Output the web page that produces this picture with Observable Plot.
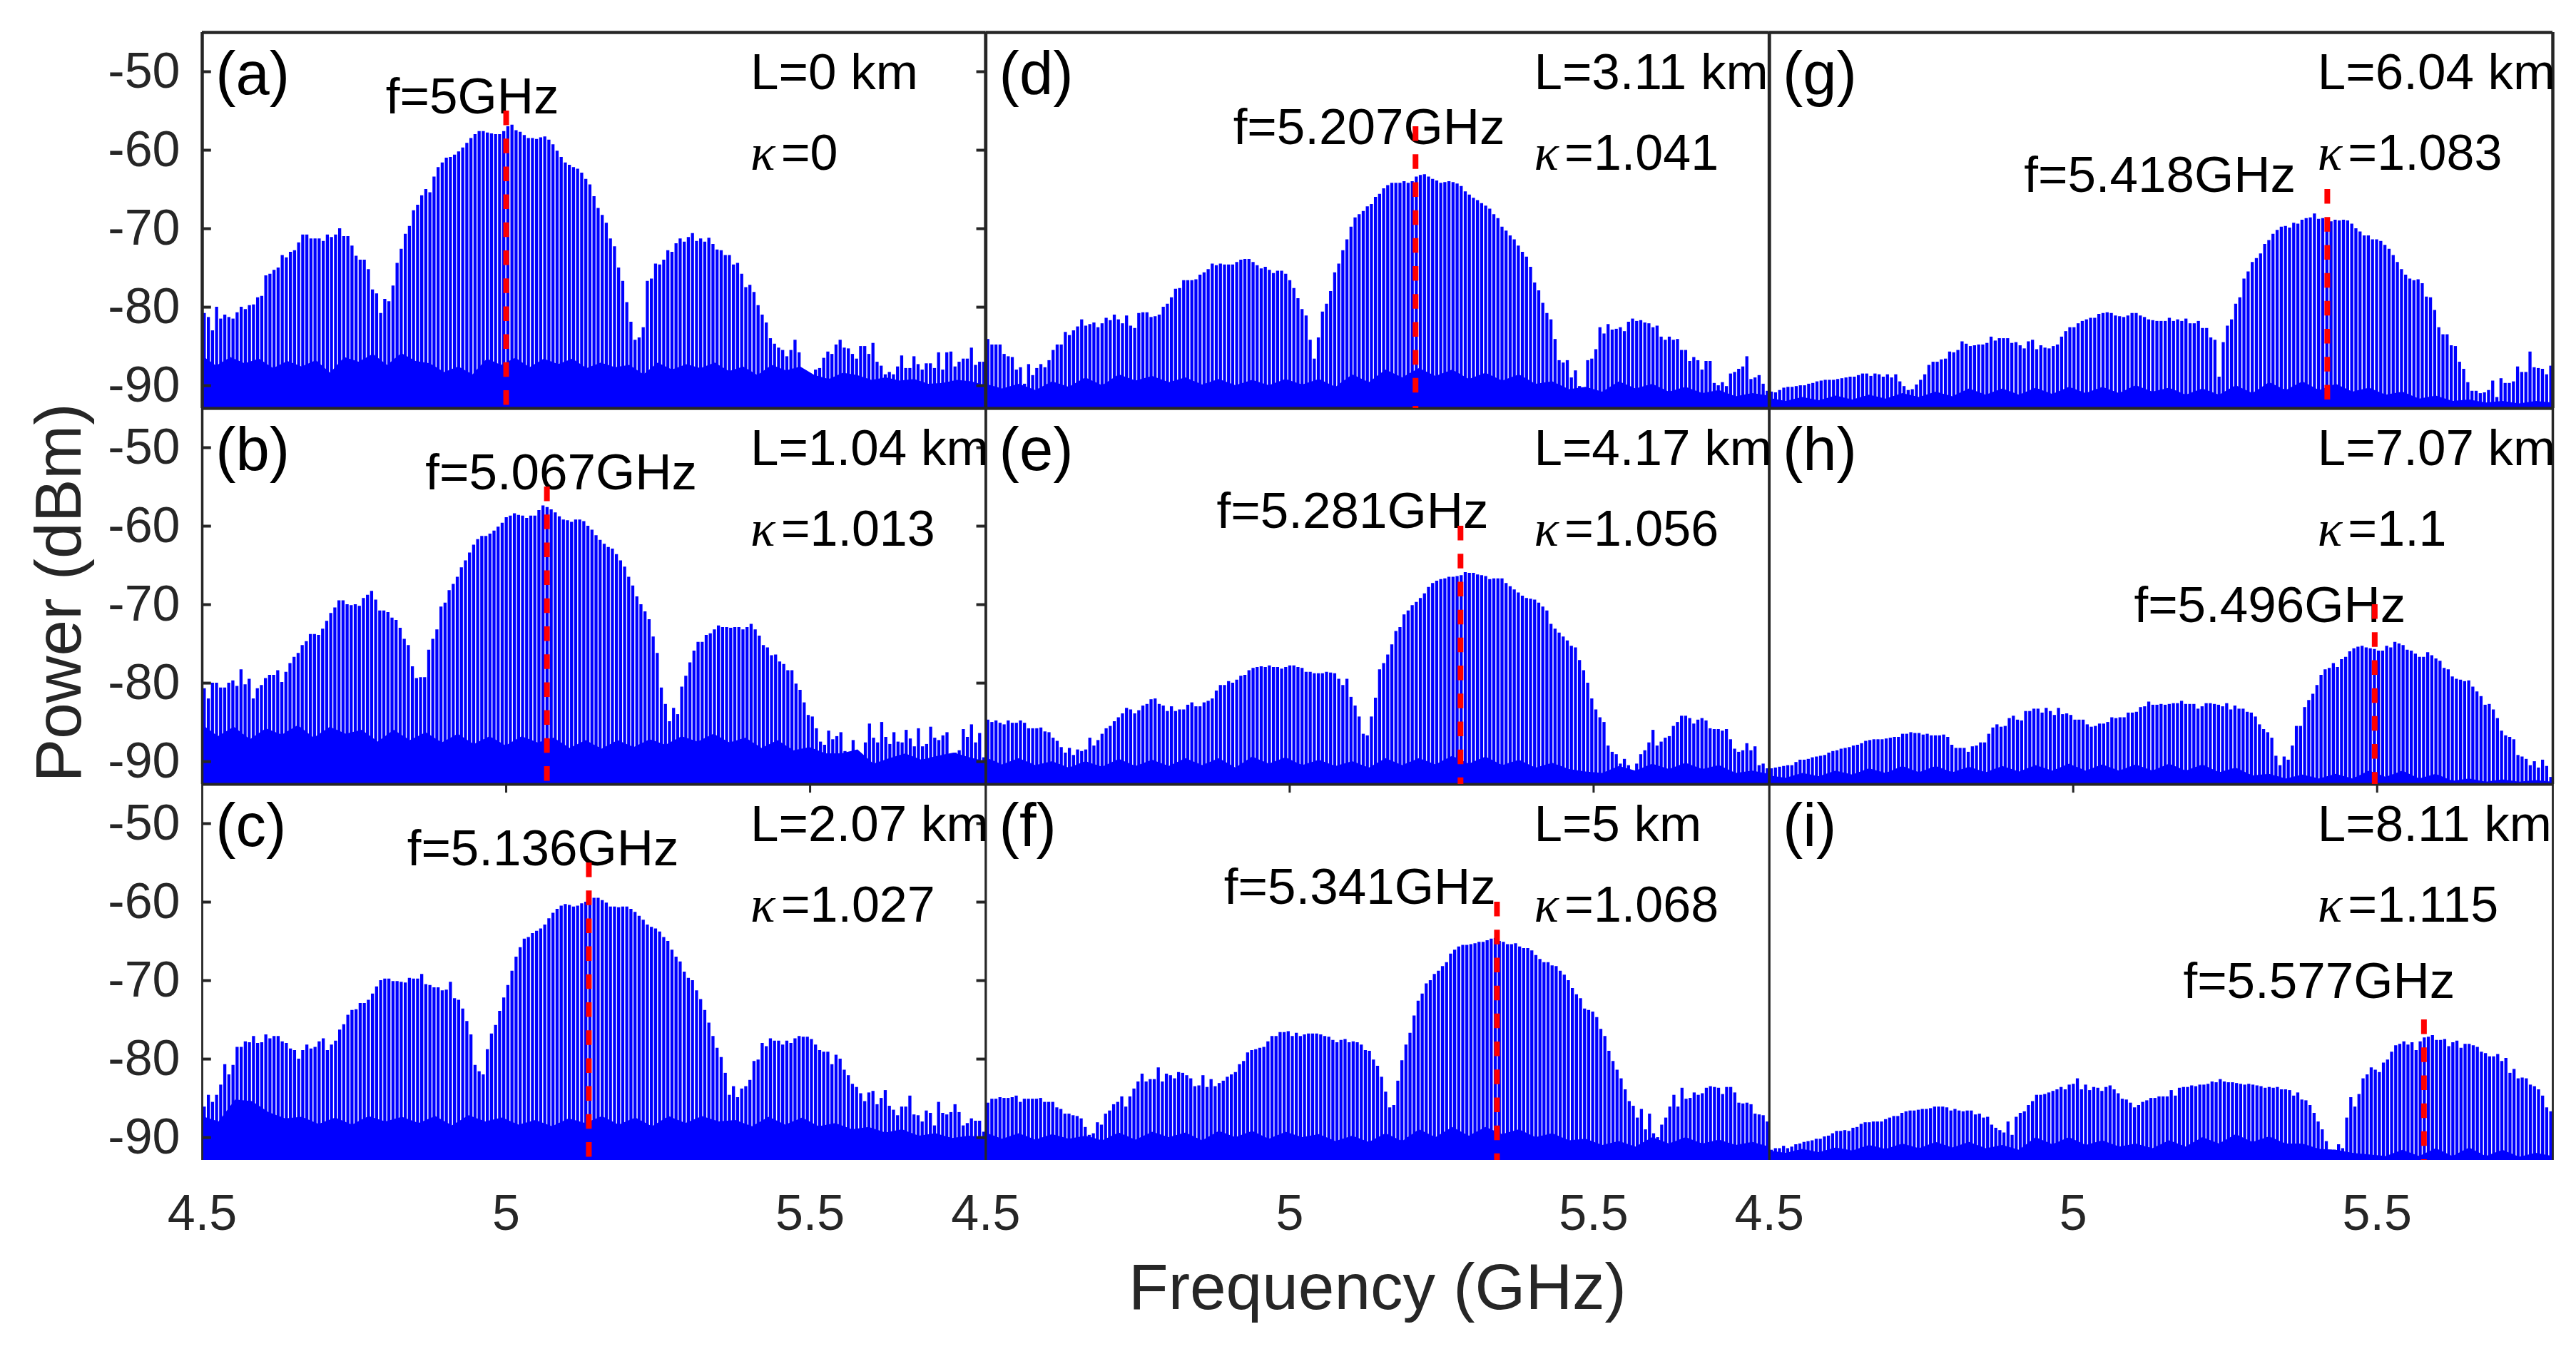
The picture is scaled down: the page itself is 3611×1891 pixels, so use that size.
<!DOCTYPE html>
<html>
<head>
<meta charset="utf-8">
<script src="https://cdn.jsdelivr.net/npm/d3@7"></script>
<script src="https://cdn.jsdelivr.net/npm/@observablehq/plot@0.6"></script>
<style>html,body{margin:0;padding:0;background:#fff}svg{display:block}</style>
</head>
<body>
<div id="chart"></div>
<script>
const xMin = 4.5, xMax = 5.789, yMin = -92.9, yMax = -45;
const xTicks = [4.5, 5, 5.5];
const yTicks = [-50, -60, -70, -80, -90];

const ids = ["a","b","c","d","e","f","g","h","i"];
const columns = ["1","1","1","2","2","2","3","3","3"];
const rows = ["r1","r2","r3","r1","r2","r3","r1","r2","r3"];
const fiberLength = ["L=0 km","L=1.04 km","L=2.07 km","L=3.11 km","L=4.17 km","L=5 km","L=6.04 km","L=7.07 km","L=8.11 km"];
const kappa = ["=0","=1.013","=1.027","=1.041","=1.056","=1.068","=1.083","=1.1","=1.115"];
const carrier = [5, 5.067, 5.136, 5.207, 5.281, 5.341, 5.418, 5.496, 5.577];
const carrierLabel = ["f=5GHz","f=5.067GHz","f=5.136GHz","f=5.207GHz","f=5.281GHz","f=5.341GHz","f=5.418GHz","f=5.496GHz","f=5.577GHz"];
const markerTop = [-55, -55, -55, -57, -60, -60, -65, -70, -75];
const carrierLabelX = [4.802, 4.867, 4.837, 4.907, 4.880, 4.892, 4.919, 5.100, 5.181];
const carrierLabelY = [-55.3, -55.3, -55.3, -59.2, -60.2, -60.2, -65.3, -72.2, -72.2];

const topsA = [-80.8,-81.3,-83,-80,-81.5,-81,-81.3,-81.5,-80.7,-80,-80.3,-79.8,-79.7,-78.8,-78.6,-76,-75.8,-75.3,-75,-73.4,-73.7,-73,-72.8,-71.8,-70.8,-70.8,-71.3,-71.3,-71.3,-71.6,-70.8,-71.1,-70.8,-70,-71,-71,-72.2,-73.5,-74,-74,-75.2,-77.8,-78.3,-80.8,-79,-79.3,-77.3,-74.4,-72.6,-70.7,-69.7,-67.7,-67,-65.8,-65,-65.4,-63.4,-62.2,-61.6,-61,-60.9,-60.6,-60.2,-59.7,-59.1,-58.5,-58,-57.6,-57.6,-57.8,-57.9,-58,-58,-57.6,-57,-56.8,-57.5,-57.7,-58.1,-58.5,-58.5,-58.6,-58.4,-58.3,-58.7,-59.3,-60.1,-60.9,-61.6,-61.9,-62.2,-62.4,-62.9,-63.7,-64.4,-65.9,-67.4,-68.3,-69.3,-71.3,-72.3,-75,-76.7,-79.4,-81.9,-84.2,-83.9,-82.6,-76.7,-76.4,-74.5,-74.6,-74,-72.8,-73,-71.9,-71.3,-71.7,-71.1,-70.6,-71.6,-71.3,-71.7,-71.2,-72,-72.7,-72.8,-73.4,-73.4,-74.6,-74.4,-75.8,-77.5,-77.2,-78.1,-79.8,-81,-82,-84,-84.7,-85.2,-85.5,-86.3,-85.5,-84.2,-85.8,-88,-88.6,-89,-88,-87.8,-86.5,-85.7,-86,-84.8,-84.2,-85.2,-85.3,-86,-86.6,-85,-85,-86,-84.6,-87,-87.5,-88.6,-88.3,-88.6,-87.6,-86.2,-87.8,-87.8,-86.3,-87.3,-88,-87.2,-87.2,-87.8,-85.8,-88,-85.8,-85.7,-87.6,-87,-86.6,-86.6,-85.2,-87.4,-87,-87];
const topsB = [-80.7,-82,-80,-80,-80.6,-80.6,-80,-79.7,-80.4,-78.3,-80.2,-79.5,-82,-80.7,-80.3,-79.4,-79,-79,-78.4,-79.9,-78.6,-77.5,-76.7,-76.2,-75.2,-74.7,-73.8,-73.8,-73.9,-73.1,-72.1,-71.1,-70.4,-69.5,-69.5,-70,-70.1,-70,-70.2,-69.2,-68.8,-68.3,-69.4,-70.8,-70.8,-71,-71.7,-72,-73,-74.4,-75.2,-77.9,-79.4,-79.3,-79.3,-75.8,-74.4,-73.2,-70.3,-69.8,-68.2,-67.4,-66.5,-65.3,-64.4,-63.4,-62.4,-61.7,-61.3,-61.3,-61,-60.6,-60.1,-59.6,-58.9,-58.7,-58.4,-58.6,-58.7,-59,-58.7,-58.7,-58,-57.4,-57.6,-57.9,-58.3,-58.8,-59.2,-59.3,-59.5,-59.2,-59.2,-59.4,-60,-60.5,-61.2,-61.8,-62.3,-62.7,-62.9,-63.6,-64.4,-65.2,-66.5,-67.6,-69,-70,-70.9,-71.9,-74.1,-76.2,-80.6,-82.7,-84.9,-83.2,-84,-80.5,-79.1,-77.4,-75.9,-74.8,-74.8,-73.9,-73.7,-73.2,-72.7,-72.9,-72.9,-73,-72.9,-72.9,-73.2,-72.9,-72.5,-73.2,-74,-75.2,-75.5,-76.5,-76.4,-77.3,-77.6,-78.4,-78.4,-80.1,-80.9,-82.5,-84.1,-84.3,-85.8,-87.5,-87.9,-86.1,-87.2,-86.8,-86.3,-88.7,-89,-87.3,-90.2,-89.3,-87.6,-85.2,-87,-87.6,-85,-86.9,-87.8,-86.3,-87.5,-87.6,-86,-87.1,-88.1,-85.8,-88.1,-87.8,-85.6,-87,-87.3,-86.7,-86.3,-89.2,-88.9,-88.6,-85.9,-86.9,-85.3,-87.6,-86.4,-89.5];
const topsC = [-86.1,-84.6,-85.5,-84.6,-83.3,-80.7,-82,-80.8,-78.5,-78.5,-77.8,-77.9,-77.1,-78,-77.9,-76.9,-77.4,-77.1,-77.1,-77.8,-78,-78.7,-78.9,-80,-78.9,-78.2,-78.7,-78.5,-77.8,-77.4,-78.9,-78.2,-77.7,-76.3,-75.6,-74.4,-73.8,-73.7,-72.9,-72.9,-72.5,-71.7,-70.8,-70,-69.8,-69.8,-70.1,-70.1,-70.2,-70.3,-69.7,-69.8,-69.8,-69.2,-70.5,-70.6,-70.9,-70.9,-71.3,-71.2,-70.2,-72.3,-72.5,-73.6,-75.2,-76.9,-80.8,-81.6,-82,-78.8,-76.8,-75.7,-73.9,-72.2,-70.6,-68.8,-67,-65.8,-64.7,-64.5,-64,-63.7,-63.4,-62.9,-62.1,-61.4,-60.9,-60.5,-60.3,-60.4,-60.6,-60.5,-60.2,-60,-59.8,-59.5,-59.5,-59.8,-60.1,-60.6,-60.6,-60.7,-60.6,-60.6,-60.9,-61.3,-61.8,-62.3,-62.9,-63.2,-63.4,-63.8,-64.5,-65,-66.1,-67,-67.6,-68.9,-69.7,-70,-71.3,-72.4,-73.8,-75.4,-77.1,-78.6,-79.8,-81.8,-84.6,-83.5,-84.9,-83.8,-83.5,-82.7,-80.3,-80.1,-78,-78.4,-77.4,-77.7,-77.7,-78.2,-77.7,-78,-77.4,-77.1,-77.2,-77.2,-77.5,-78.2,-78.9,-79.1,-79.1,-80.7,-79.5,-80,-81.4,-82.1,-83.2,-83.6,-84.4,-85.4,-84.3,-84.1,-85.8,-85,-84,-86,-86.5,-87.2,-86.1,-86.1,-84.7,-87.1,-87.2,-88,-86.6,-86.9,-88.5,-85.5,-86.9,-87.1,-86.8,-85.8,-86.8,-88.5,-88.2,-87.6,-87.9,-87.9,-89.3];
const topsD = [-84.1,-84.8,-84.8,-84.8,-86,-86.3,-86.4,-88,-87.7,-89.8,-87.3,-88.7,-87.8,-87.3,-87.7,-86.8,-85.5,-84.8,-84.8,-83.2,-83.6,-83,-82.5,-81.6,-82.4,-82.2,-82,-82.6,-82.1,-81.4,-81.7,-81,-81.6,-82.1,-81.1,-82.4,-82.7,-80.8,-80.7,-80.7,-81.3,-81.2,-81,-80,-79.6,-78.8,-77.7,-77.6,-76.6,-76.6,-76.6,-76.5,-75.9,-75.6,-75.2,-74.5,-74.7,-74.5,-74.6,-74.6,-74.6,-74.3,-74,-73.9,-73.9,-74.3,-74.7,-75.1,-74.9,-75.3,-75.7,-75.4,-75.4,-75.8,-76.6,-77.6,-78.9,-80.3,-81.1,-84.2,-86.6,-83.9,-80.6,-79.6,-78,-75.6,-74.5,-72.8,-71.4,-69.8,-68.6,-68.2,-67.8,-67.2,-66.9,-66,-65.6,-64.9,-64.5,-64.2,-64.2,-64.2,-64,-64.2,-64,-63.4,-63.2,-63.1,-63.4,-63.7,-63.9,-64.2,-64.1,-64,-64.1,-64.3,-64.6,-65.3,-65.7,-66.1,-66.4,-66.8,-67.1,-67.5,-68.2,-68.7,-69.8,-70.3,-70.9,-71.4,-72.2,-73,-73.6,-74.9,-76.9,-77.9,-79.5,-80.8,-81.6,-84.1,-86.8,-87.1,-86.8,-89,-88.1,-90.1,-90.6,-86.8,-86.6,-85.4,-82.6,-83.4,-82.2,-82.9,-82.8,-82.6,-83.1,-81.9,-81.5,-81.8,-81.7,-82,-82.1,-82.6,-82.4,-83.8,-84.2,-83.8,-84.2,-84.1,-85.5,-85.5,-86.9,-86.4,-86.8,-88,-86.9,-86.9,-89.7,-90,-89.6,-90.1,-88.5,-88.3,-87.9,-87.6,-86.3,-89.2,-89,-88.7,-89.8,-90.7];
const topsE = [-84.7,-85,-84.8,-85.1,-85.3,-84.8,-85.1,-85.1,-84.8,-85.1,-85.8,-85.8,-85.8,-85.7,-86.2,-86.3,-87,-87.4,-88.2,-88.9,-88.3,-89.2,-88.5,-88.7,-88.5,-87,-88,-87.3,-86.5,-85.8,-85.5,-84.9,-84.4,-83.9,-83.2,-83.4,-83.9,-83.5,-82.9,-82.7,-82.1,-82,-82.7,-82.9,-83.6,-83,-83.6,-83.4,-83.4,-82.8,-82.5,-83,-83,-82.5,-82.3,-82,-81,-80.3,-80.3,-79.8,-80,-79.6,-79.1,-79,-78.4,-78.1,-78,-77.9,-78,-77.8,-78,-78,-78.2,-78,-77.8,-77.8,-78,-78.1,-78.6,-78.6,-78.8,-78.8,-78.8,-78.6,-78.7,-78.8,-79.5,-80.3,-79.5,-81.8,-82.9,-84.3,-86.5,-86.7,-84.3,-81.9,-78.3,-77.5,-76.4,-75.1,-73.4,-72.9,-71.3,-70.8,-70.1,-69.7,-69.2,-68.6,-67.8,-67.3,-67,-66.8,-66.7,-66.5,-66.5,-66.4,-66.3,-65.9,-66,-66,-66.2,-66.3,-66.4,-66.8,-66.7,-66.7,-66.7,-67.3,-67.7,-68.1,-68.5,-68.9,-69.2,-69.3,-69.4,-69.8,-70.3,-70.8,-72.5,-73.1,-73.6,-74.1,-74.6,-75.3,-75.5,-77.1,-78.4,-80,-82,-83.4,-84.4,-85,-88,-88.8,-89.1,-90.3,-89.7,-90.5,-91.3,-90.3,-89.1,-88.6,-87.6,-86,-88,-87.5,-87,-86.8,-85.5,-85,-84.2,-84.2,-84.5,-85.2,-84.7,-84.5,-84.8,-85.8,-85.9,-85.9,-86.1,-85.9,-87.2,-88.4,-88.8,-88.6,-87.7,-88.6,-88.1,-90.5,-90.3,-90.9];
const topsF = [-85.6,-85.1,-85.1,-84.9,-85,-85,-84.9,-84.7,-85.5,-85.1,-85.1,-85.1,-85.1,-85,-85.5,-85.5,-85.5,-86.2,-86.4,-87,-87,-87.2,-87.3,-87.6,-88.7,-89.7,-89.5,-88.1,-88.4,-87,-86.6,-85.8,-85.5,-84.8,-86.1,-84.8,-83.8,-82.9,-81.9,-82.9,-82.6,-82.6,-81.1,-82.9,-81.9,-82.1,-82.5,-81.7,-81.8,-82.1,-82.5,-83.5,-83.4,-82.1,-83.6,-82.6,-83.5,-83.1,-82.8,-82.3,-82,-81.7,-80.7,-80.3,-79.2,-78.9,-78.8,-78.6,-78.5,-77.8,-77.1,-77.1,-76.6,-76.6,-76.5,-77.1,-76.7,-77.1,-76.9,-76.8,-76.8,-76.8,-76.9,-77.1,-77.2,-77.6,-77.9,-77.6,-77.5,-77.9,-77.8,-77.9,-78.2,-78.9,-79,-80.1,-80.9,-82.3,-84.2,-86.2,-85.9,-82.8,-80.2,-78.2,-76.7,-74.5,-72.6,-71.7,-70.4,-70,-69.2,-68.8,-68.2,-67.7,-66.6,-66.1,-65.7,-65.5,-65.5,-65.4,-65.3,-65.1,-65.1,-64.9,-64.7,-64.6,-65,-65.1,-65.4,-65.4,-65.3,-65.7,-65.9,-65.9,-66.2,-66.8,-67.3,-67.7,-67.7,-68.1,-68.2,-68.8,-69.3,-70,-71,-71.8,-72.3,-73.6,-73.8,-74,-74.7,-76.2,-77.1,-79,-80.3,-81.4,-82.5,-83.9,-85.4,-86,-87.5,-86.4,-89,-87,-89.5,-90,-88.4,-87.5,-86.1,-84.6,-86.1,-83.7,-85.1,-85,-84.3,-84.6,-84.4,-83.7,-83.5,-83.6,-83.7,-84.5,-83.6,-83.6,-84.3,-85.6,-85.7,-85.6,-85.8,-87,-87.1,-87.2,-88];
const topsG = [-90.8,-90.9,-90.6,-90.3,-90.2,-90.2,-90.1,-90,-90,-89.8,-89.7,-89.5,-89.4,-89.3,-89.3,-89.3,-89.2,-89.1,-89,-88.9,-88.9,-88.7,-88.5,-88.5,-88.8,-88.5,-88.6,-88.9,-88.6,-89,-88.6,-89.5,-90.1,-90.6,-90.5,-89.9,-89.3,-88.6,-87.4,-87,-87,-86.7,-86.6,-85.7,-85.8,-85.5,-84.4,-84.7,-85,-84.9,-84.8,-84.8,-84.6,-83.8,-84.3,-84,-84,-84,-84.6,-84.5,-84.9,-85.3,-84.4,-84.2,-85.4,-84.9,-85.2,-85.3,-85,-84.8,-83.8,-83.1,-82.6,-82.6,-82.1,-81.8,-81.6,-81.4,-81.4,-80.9,-80.8,-80.7,-80.8,-81.1,-81.2,-81.3,-81.1,-80.8,-80.8,-81.1,-81.3,-81.6,-81.7,-81.8,-81.8,-81.8,-81.4,-81.8,-81.6,-81.8,-81.5,-82.1,-82.1,-81.8,-82.7,-82.7,-83.9,-84.2,-88.9,-84.5,-82.4,-81.6,-79.6,-78.8,-76.4,-75.5,-74.3,-73.8,-73.2,-72,-71.5,-70.7,-70.2,-69.8,-69.7,-69.9,-69.3,-69.4,-68.9,-68.7,-68.6,-68.1,-68.8,-68.7,-68.7,-69.1,-68.9,-69,-68.9,-69,-69.4,-70,-70.4,-70.9,-70.9,-71.4,-71.4,-71.6,-72.1,-72.6,-73.4,-74.3,-75.2,-75.9,-76.4,-76.6,-76.5,-77,-78.7,-78.8,-80.4,-82.6,-83.5,-83.5,-84.9,-85,-87,-87.9,-89.6,-90.7,-90.7,-91,-90.9,-90.6,-89.4,-91.5,-89.1,-89.7,-89.7,-89.5,-87.6,-88.3,-88.3,-85.7,-87.7,-87.8,-87.9,-88.6,-87.5];
const topsH = [-90.9,-90.8,-90.7,-90.6,-90.5,-90.5,-90.1,-89.8,-89.8,-89.7,-89.5,-89.4,-89.3,-89.2,-88.9,-88.7,-88.6,-88.4,-88.3,-88.2,-88,-87.9,-87.7,-87.4,-87.3,-87.2,-87.2,-87.2,-87.1,-87,-86.9,-86.9,-86.5,-86.5,-86.3,-86.4,-86.4,-86.6,-86.5,-86.7,-86.7,-86.7,-86.6,-86.9,-87.9,-88.3,-88.3,-88.3,-88.8,-88.1,-88,-87.6,-87.6,-86.5,-85.7,-85.3,-85.6,-85.5,-84.5,-84.2,-84.7,-84.8,-83.6,-83.6,-83.3,-83.3,-83.8,-83.2,-83.6,-84.1,-83.2,-84,-83.9,-84.1,-84.7,-84.7,-84.7,-85.3,-85.6,-85.5,-85.2,-85.2,-85,-84.4,-84.5,-84.4,-84.4,-83.8,-83.8,-83.7,-83.1,-83,-82.4,-82.8,-82.8,-82.7,-82.8,-82.7,-82.6,-82.6,-82.3,-82.7,-82.7,-82.7,-83.3,-83,-82.6,-82.6,-82.7,-82.8,-83,-82.6,-83.4,-82.9,-83.3,-83.3,-83.7,-83.8,-84.3,-85.3,-85.9,-86.3,-87,-89.3,-90.5,-89.4,-89.8,-88,-85.5,-85.5,-83.1,-82.2,-81.4,-80.3,-79,-78.3,-78.1,-77.5,-78,-77,-76.7,-76,-75.6,-75.4,-75.3,-75.5,-75.6,-75.7,-75.9,-75.9,-75.3,-75.5,-74.8,-75,-75.2,-75.8,-75.9,-76.3,-76.7,-76.7,-76.1,-76.5,-76.9,-77.2,-78.1,-78.3,-79.2,-79.5,-79.6,-79.8,-79.7,-80.5,-81.1,-81.7,-82.8,-82.7,-83.4,-84.5,-86.1,-86.7,-86.9,-87.2,-89.2,-89.4,-89.7,-90.5,-90,-90.8,-89.8,-90.6,-92];
const topsI = [-91.6,-91.4,-91.4,-91.1,-91.4,-91.2,-90.9,-90.8,-90.6,-90.5,-90.4,-90.2,-90.2,-89.9,-89.8,-89.5,-89.2,-89.2,-89.1,-89.2,-88.8,-88.7,-88.3,-88.1,-88.1,-88,-88,-88,-87.7,-87.5,-87.3,-87.3,-86.9,-86.7,-86.6,-86.6,-86.5,-86.4,-86.4,-86.3,-86.1,-86.1,-86.1,-86.2,-86.6,-86.4,-86.6,-86.7,-86.6,-86.6,-87.1,-87,-87.5,-87.4,-88.4,-88.8,-89.1,-89.4,-88,-89.7,-87.4,-86.9,-86.7,-85.9,-85.4,-84.6,-84.6,-84.5,-84.3,-84.1,-83.9,-83.6,-83.9,-83.3,-83.2,-82.5,-83.9,-83.3,-84,-83.6,-83.7,-84.1,-83.6,-83.4,-83.9,-84.4,-85.1,-85.2,-85.6,-86.2,-85.9,-85.5,-85.3,-85,-85,-84.8,-84.8,-84.8,-84,-84.7,-83.7,-83.6,-83.6,-83.4,-83.5,-83.3,-83.3,-83.2,-82.9,-83,-82.6,-82.9,-83,-83,-83.1,-83.2,-83.3,-83.2,-83.3,-83.4,-83.5,-83.7,-83.6,-83.7,-83.6,-83.9,-83.9,-84,-84.7,-84.3,-85.2,-85.3,-85.9,-86.9,-88,-89,-90.5,-91.6,-91.6,-90.9,-91.4,-87.5,-84.9,-86.1,-84.5,-82.5,-82,-81.1,-81.4,-81.7,-80.5,-80.1,-79.1,-78.3,-78.1,-77.8,-78.2,-77.9,-78.9,-77.8,-77.3,-77.2,-77,-77.6,-77.6,-77.5,-78.4,-77.9,-77.7,-78.6,-78.1,-78.1,-78.3,-78.5,-79.1,-79.3,-79.7,-79.7,-79.4,-80.3,-79.9,-81.8,-81.3,-82.5,-82.4,-82.5,-83.3,-83.5,-83.9,-84.7,-86.2,-86.7];

const floorA = [-86.2,-87.5,-86.4,-87.2,-86.6,-87.8,-86.9,-87.6,-86.8,-88.4,-86.4,-87,-86,-87.4,-85.9,-86.9,-87.2,-88.3,-87.6,-88.6,-86.6,-87.4,-86.5,-87.7,-86.6,-87.3,-86.6,-87.8,-87.1,-87.7,-87.4,-88.6,-87.1,-88,-87.3,-87.8,-87.1,-88.2,-87.6,-88.7,-87.4,-88.1,-87.6,-88.7,-89.2,-88.4,-88.7,-89.3,-89,-89.4,-89.2,-89.8,-89.7,-89.3,-89.5,-90];
const floorB = [-85.3,-86.8,-85.6,-87.2,-85.8,-86.6,-85.4,-87,-85.6,-86.5,-86,-87.5,-86,-87.3,-86.3,-87.6,-86.5,-87.8,-86.8,-88,-86.8,-87.6,-87,-88.3,-87.3,-88.4,-87.3,-88.2,-87.2,-87.9,-86.8,-87.5,-86.5,-87.6,-87,-88.3,-87.3,-88.6,-88.2,-89,-89,-88.5,-90.3,-89.6,-89,-89.8,-89.3,-88.9,-89.5,-90];
const floorC = [-87.3,-88,-85.2,-85.4,-86.8,-87.6,-87.4,-88.3,-87.5,-88.4,-87.3,-88,-87.4,-88.2,-87.3,-88.5,-87.2,-88,-87.5,-88.4,-87.8,-88.6,-87.6,-88.2,-87.3,-88.4,-87.5,-88.6,-87.3,-88.2,-87.3,-88,-87.8,-88.6,-87.4,-88.4,-87.5,-88.6,-88.2,-89,-88.7,-89.4,-89,-89.8,-89.5,-90.1,-89.8,-90];
const floorD = [-89.8,-90.4,-89.8,-90.6,-89.5,-90.2,-89,-90,-88.6,-89.4,-88.8,-89.6,-89,-89.9,-89.2,-90,-89.3,-90,-89.2,-89.9,-89.2,-90.2,-88.6,-89.6,-88,-89,-87.8,-88.8,-88,-89.2,-88.4,-89.4,-88.6,-89.8,-89.5,-90.5,-90.2,-90.8,-89.5,-90.4,-89.8,-90.8,-90.2,-91,-90.6,-91.4,-91,-91.3];
const floorE = [-89.5,-90.4,-89.6,-90.5,-90,-90.8,-90,-90.7,-89.7,-90.6,-89.8,-90.6,-89.6,-90.5,-89.6,-90.8,-89.4,-90.3,-89.5,-90.5,-89.8,-90.6,-90,-90.8,-89.6,-90.5,-89.6,-90.4,-89.3,-90.3,-89.4,-90.5,-89.8,-90.8,-90.2,-91,-91.3,-91.5,-90.6,-91.2,-90.3,-91,-90.2,-91,-90.5,-91.5,-91.2,-91.6];
const floorF = [-89.4,-90.2,-89.5,-90.3,-89.6,-90.2,-89.8,-90.4,-89.4,-90.3,-89.3,-90,-89.4,-90.4,-89.2,-90,-89.2,-90.2,-89.3,-90,-89.6,-90.5,-89.8,-90.6,-89.5,-90.5,-89,-90,-88.7,-89.8,-88.7,-89.6,-89,-90,-89.5,-90.4,-90.2,-91,-90.5,-91.2,-90,-90.8,-90,-90.8,-90.3,-91,-90.6,-91.2];
const floorG = [-91.6,-92,-91.5,-91.9,-91.3,-91.8,-91.2,-91.7,-91,-91.5,-90.8,-91.4,-90.4,-91.2,-90.4,-91.2,-90.3,-91.1,-90.2,-91,-90.2,-91,-90,-90.8,-90.3,-91.2,-90.4,-91.2,-90,-91,-89.6,-90.6,-89.5,-90.6,-89.8,-90.8,-90.3,-91.2,-90.8,-91.7,-91.3,-92,-91.8,-92.2,-92,-92.3,-92,-92.2];
const floorH = [-91.8,-92.1,-91.5,-91.9,-91.2,-91.7,-90.9,-91.5,-90.6,-91.4,-90.6,-91.4,-90.7,-91.4,-90.6,-91.3,-90.5,-91.2,-90.3,-91.2,-90.4,-91.2,-90.4,-91.2,-90.3,-91.2,-90.4,-91.4,-90.8,-91.8,-91.6,-92.2,-91.7,-92.2,-91.6,-92.2,-91.2,-92,-91.2,-92.2,-91.6,-92.5,-92.2,-92.6,-92.3,-92.6,-92.4,-92.6];
const floorI = [-91.7,-92,-91.5,-91.9,-91.3,-91.7,-91,-91.5,-90.8,-91.4,-90.6,-91.3,-90.6,-91.4,-91,-91.6,-90,-90.9,-90,-91,-90.4,-91.2,-90.8,-91.4,-90.4,-91.2,-90,-90.8,-89.6,-90.6,-89.9,-90.8,-90.8,-91.5,-91.6,-92,-92.2,-92.4,-91.6,-92.4,-91.4,-92.4,-91.3,-92.4,-91.6,-92.5,-92,-92.4];

const allTops = [topsA,topsB,topsC,topsD,topsE,topsF,topsG,topsH,topsI];
const allFloors = [floorA,floorB,floorC,floorD,floorE,floorF,floorG,floorH,floorI];

const panels = ids.map((id, i) => ({
  id, col: columns[i], row: rows[i],
  letter: "(" + id + ")", length: fiberLength[i], kappa: kappa[i],
  f: carrier[i], fLabel: carrierLabel[i], top: markerTop[i],
  lx: carrierLabelX[i], ly: carrierLabelY[i]
}));
const span = xMax - xMin;
const teeth = panels.flatMap((p, i) => allTops[i].map((v, k, a) => ({
  col: p.col, row: p.row, f: xMin + (k + 0.5) * span / a.length, v
})));
const floors = panels.flatMap((p, i) => allFloors[i].map((v, k, a) => ({
  col: p.col, row: p.row, f: xMin + k * span / (a.length - 1), v
})));
const leftColumn = panels.filter(p => p.col === "1");
const yTickRows = leftColumn.flatMap(p => yTicks.map(v => ({col: p.col, row: p.row, v})));
const topTicks = panels.filter(p => p.row === "r3").flatMap(p => [5, 5.5].map(v => ({col: p.col, row: p.row, v})));
const frameWidth = {r1: 4.5, r2: 3.5, r3: 2.8};
const ink = "#262626";
const facet = {fx: "col", fy: "row"};
const textBase = {...facet, fontFamily: "Liberation Sans", fill: "#000", textAnchor: "start", lineAnchor: "bottom"};

const chart = Plot.plot({
  width: 3611, height: 1891,
  marginLeft: 283, marginRight: 33, marginTop: 45, marginBottom: 265,
  style: {background: "#fff", fontFamily: "Liberation Sans", overflow: "visible"},
  fx: {domain: ["1","2","3"], padding: 0, round: false, axis: null},
  fy: {domain: ["r1","r2","r3"], padding: 0, round: false, axis: null},
  x: {domain: [xMin, xMax]},
  y: {domain: [yMin, yMax]},
  marks: [
    Plot.areaY(floors, {...facet, x: "f", y1: () => yMin, y2: "v", fill: "#0000ff"}),
    Plot.ruleX(teeth, {...facet, x: "f", y1: () => yMin, y2: "v", stroke: "#0000ff", strokeWidth: 4.3}),
    Plot.ruleX(panels, {...facet, x: () => xMin, stroke: ink, strokeWidth: d => frameWidth[d.row]}),
    Plot.ruleX(panels, {...facet, x: () => xMax, stroke: ink, strokeWidth: d => frameWidth[d.row]}),
    Plot.ruleY(panels, {...facet, y: () => yMax, stroke: ink, strokeWidth: d => frameWidth[d.row]}),
    Plot.ruleY(panels.filter(p => p.row !== "r3"), {...facet, y: () => yMin, stroke: ink, strokeWidth: 4}),
    Plot.ruleY(yTickRows, {...facet, y: "v", x1: () => xMin, x2: () => xMin + 0.015, stroke: ink, strokeWidth: 4}),
    Plot.ruleY(yTickRows, {...facet, y: "v", x1: () => xMax - 0.015, x2: () => xMax, stroke: ink, strokeWidth: 4}),
    Plot.ruleX(topTicks, {...facet, x: "v", y1: () => yMax, y2: () => yMax - 1.1, stroke: ink, strokeWidth: 3}),
    Plot.axisX({anchor: "bottom", ticks: xTicks, tickSize: 0, tickPadding: 48, fontSize: 70, tickFormat: d => String(d), label: null, color: ink}),
    Plot.axisY({anchor: "left", ticks: yTicks, tickSize: 0, tickPadding: 31, fontSize: 70, tickFormat: d => String(d), label: null, color: ink}),
    Plot.text(panels, {...textBase, x: () => 4.522, y: () => -52.9, text: "letter", fontSize: 85}),
    Plot.text(panels, {...textBase, x: () => 5.402, y: () => -52.2, text: "length", fontSize: 71}),
    Plot.text(panels, {...textBase, x: () => 5.402, y: () => -62.5, text: () => "\u03ba", fontSize: 72, fontStyle: "italic", fontFamily: "Liberation Serif"}),
    Plot.text(panels, {...textBase, x: () => 5.452, y: () => -62.5, text: "kappa", fontSize: 70}),
    Plot.text(panels, {...textBase, x: "lx", y: "ly", text: "fLabel", fontSize: 71}),
    Plot.ruleX(panels, {...facet, x: "f", y1: "top", y2: () => yMin, stroke: "#ff0000", strokeWidth: 8, strokeDasharray: "20.5,18.7"}),
    Plot.text(["Power (dBm)"], {fx: () => "1", fy: () => "r2", frameAnchor: "left", dx: -200, dy: -5, rotate: -90, text: d => d, fontSize: 91, fill: ink, textAnchor: "middle", lineAnchor: "middle", fontFamily: "Liberation Sans"}),
    Plot.text(["Frequency (GHz)"], {fx: () => "2", fy: () => "r3", frameAnchor: "bottom", dy: 179, text: d => d, fontSize: 91, fill: ink, textAnchor: "middle", lineAnchor: "middle", fontFamily: "Liberation Sans"})
  ]
});
document.getElementById("chart").appendChild(chart);
</script>
</body>
</html>
